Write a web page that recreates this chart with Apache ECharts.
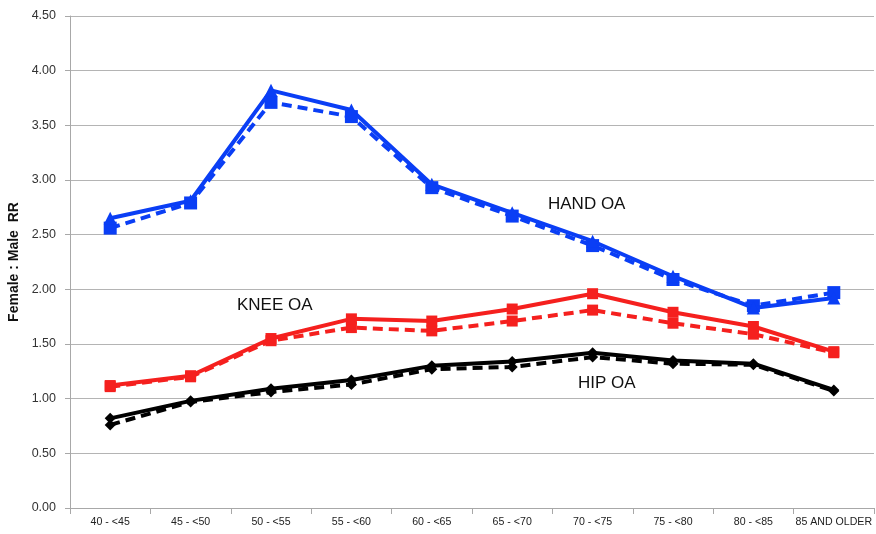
<!DOCTYPE html>
<html>
<head>
<meta charset="utf-8">
<script src="https://cdn.jsdelivr.net/npm/echarts@6/dist/echarts.min.js"></script>
<style>html,body{margin:0;padding:0;background:#fff;}#c{width:876px;height:534px;}</style>
</head>
<body>
<div id="c"></div>
<script>
const categories = ['40 - <45','45 - <50','50 - <55','55 - <60','60 - <65','65 - <70','70 - <75','75 - <80','80 - <85','85 AND OLDER'];
const handSolid  = [2.65, 2.81, 3.82, 3.64, 2.96, 2.70, 2.44, 2.12, 1.83, 1.92];
const handDashed = [2.56, 2.79, 3.71, 3.58, 2.93, 2.67, 2.40, 2.09, 1.85, 1.97];
const kneeSolid  = [1.12, 1.21, 1.55, 1.73, 1.71, 1.82, 1.96, 1.79, 1.66, 1.43];
const kneeDashed = [1.11, 1.20, 1.53, 1.65, 1.62, 1.71, 1.81, 1.69, 1.59, 1.42];
const hipSolid   = [0.82, 0.98, 1.09, 1.17, 1.30, 1.34, 1.42, 1.35, 1.32, 1.08];
const hipDashed  = [0.76, 0.97, 1.06, 1.13, 1.27, 1.29, 1.38, 1.32, 1.31, 1.07];
const yTicks = {min: 0, max: 4.5, interval: 0.5};

const BLUE = '#0a3ef5', RED = '#f5201e', BLACK = '#000000';
function mk(name, data, color, dashed, symbol, size) {
  return {
    name, type: 'line', data, symbol, symbolSize: size,
    itemStyle: {color},
    lineStyle: {color, width: 4, type: dashed ? [10, 6] : 'solid'},
    z: dashed ? 2 : 3, animation: false
  };
}
const chart = echarts.init(document.getElementById('c'));
chart.setOption({
  animation: false,
  grid: {left: 70, top: 16, width: 804, height: 492, containLabel: false, outerBoundsMode: 'none'},
  xAxis: {
    type: 'category', data: categories, boundaryGap: true,
    axisLine: {lineStyle: {color: '#a8a8a8', width: 1}},
    axisTick: {show: true, length: 6, lineStyle: {color: '#a8a8a8'}},
    axisLabel: {interval: 0, margin: 9, fontSize: 10.6, color: '#222', fontFamily: 'Liberation Sans, Arial'}
  },
  yAxis: {
    type: 'value', min: yTicks.min, max: yTicks.max, interval: yTicks.interval,
    name: 'Female : Male  RR', nameLocation: 'middle', nameGap: 44,
    nameTextStyle: {fontSize: 14, fontWeight: 'bold', color: '#111', fontFamily: 'Liberation Sans, Arial'},
    axisLine: {show: true, lineStyle: {color: '#a8a8a8'}},
    axisTick: {show: true, length: 5, lineStyle: {color: '#a8a8a8'}},
    axisLabel: {margin: 14, fontSize: 12.5, color: '#333', fontFamily: 'Liberation Sans, Arial', formatter: v => v.toFixed(2)},
    splitLine: {lineStyle: {color: '#b4b4b4', width: 1}}
  },
  series: [
    mk('Hand OA dashed', handDashed, BLUE, true, 'rect', 13),
    mk('Hand OA', handSolid, BLUE, false, 'triangle', 13),
    mk('Knee OA dashed', kneeDashed, RED, true, 'rect', 11),
    mk('Knee OA', kneeSolid, RED, false, 'rect', 11),
    mk('Hip OA dashed', hipDashed, BLACK, true, 'diamond', 11),
    mk('Hip OA', hipSolid, BLACK, false, 'diamond', 11)
  ],
  graphic: [
    {type: 'text', left: 548, top: 196, style: {text: 'HAND OA', fontSize: 17, fill: '#111', fontFamily: 'Liberation Sans, Arial'}},
    {type: 'text', left: 237, top: 297, style: {text: 'KNEE OA', fontSize: 17, fill: '#111', fontFamily: 'Liberation Sans, Arial'}},
    {type: 'text', left: 578, top: 375, style: {text: 'HIP OA', fontSize: 17, fill: '#111', fontFamily: 'Liberation Sans, Arial'}}
  ]
});
</script>
</body>
</html>
